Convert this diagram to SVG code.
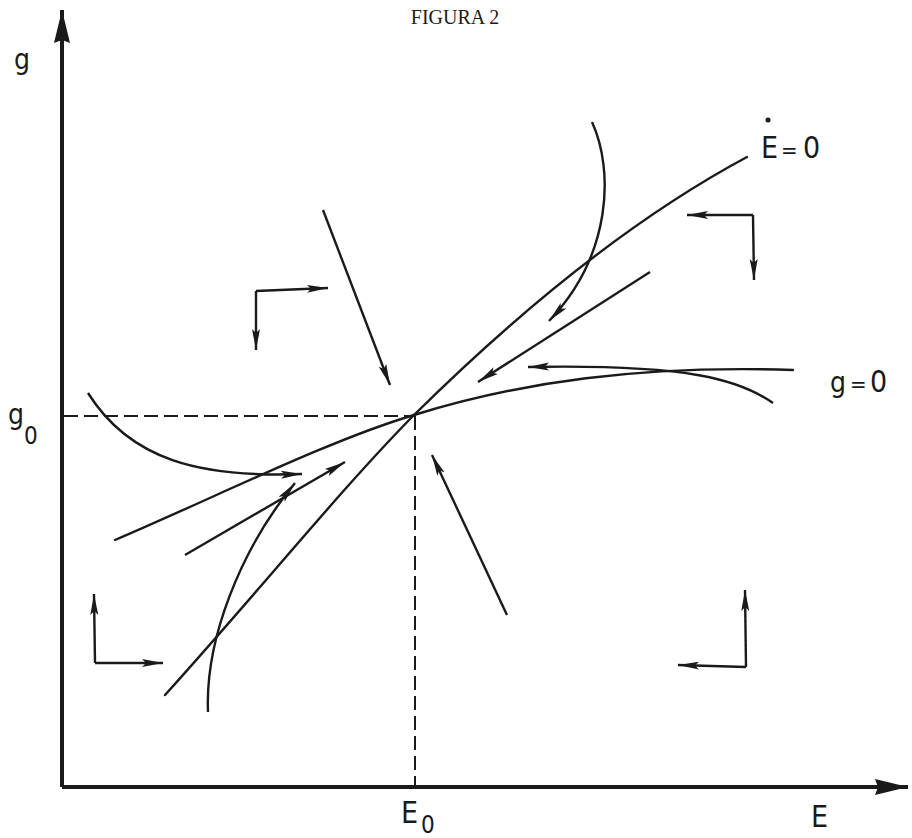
<svg xmlns="http://www.w3.org/2000/svg" width="912" height="838" viewBox="0 0 912 838">
<defs>
<marker id="ah" markerUnits="userSpaceOnUse" markerWidth="22" markerHeight="10" viewBox="0 0 22 10" refX="21" refY="5" orient="auto">
<path d="M0,1 L21,5 L0,9 L4,5 z" fill="#1a1a1a"/>
</marker>
<marker id="axh" markerUnits="userSpaceOnUse" markerWidth="34" markerHeight="18" viewBox="0 0 34 18" refX="33" refY="9" orient="auto">
<path d="M0,1 L33,9 L0,17 L3,9 z" fill="#1a1a1a"/>
</marker>
<style>
.ax{stroke:#1a1a1a;stroke-width:4;fill:none}
.cv{stroke:#1a1a1a;stroke-width:2.4;fill:none;stroke-linecap:round}
.ar{stroke:#1a1a1a;stroke-width:2.4;fill:none;marker-end:url(#ah)}
.ds{stroke:#1a1a1a;stroke-width:2;fill:none;stroke-dasharray:14 6}
.lb{font-family:"DejaVu Sans","Liberation Sans",sans-serif;font-stretch:condensed;fill:#1a1a1a}
.tt{font-family:"Liberation Serif",serif;font-size:20px;fill:#1a1a1a}
</style>
</defs>
<text class="tt" x="455" y="24" text-anchor="middle">FIGURA 2</text>
<g id="axes">
<path class="ax" d="M62,787 L62,10" marker-end="url(#axh)"/>
<path class="ax" d="M62,787 L908,787" marker-end="url(#axh)"/>
</g>
<g id="guides">
<path class="ds" d="M64,416 L414,416"/>
<path class="ds" d="M415,416 L415,785"/>
</g>
<g id="labels">
<text class="lb" x="14" y="69" font-size="28">g</text>
<text class="lb" x="8" y="424" font-size="28">g</text>
<text class="lb" x="24" y="444" font-size="24">0</text>
<text class="lb" x="401" y="823" font-size="30">E</text>
<text class="lb" x="421" y="833" font-size="24">0</text>
<text class="lb" x="811" y="827" font-size="30">E</text>
<text class="lb" x="761" y="158" font-size="30">E</text>
<circle cx="768" cy="120" r="2.5" fill="#1a1a1a"/>
<text class="lb" x="781" y="158" font-size="22">=</text>
<text class="lb" x="803" y="158" font-size="30">0</text>
<text class="lb" x="830" y="392" font-size="28">g</text>
<text class="lb" x="850" y="392" font-size="22">=</text>
<text class="lb" x="870" y="392" font-size="30">0</text>
</g>
<g id="isoclines">
<path id="Edot0" class="cv" d="M165,695 C260,590 340,490 414,415 C500,330 620,225 747,157"/>
<path id="g0" class="cv" d="M115,540 C220,495 330,440 414,415 C520,382 640,365 793,370"/>
</g>
<g id="connectors">
<path class="ar" d="M185,555 L345,462"/>
<path class="ar" d="M650,272 L478,382"/>
<path class="ar" d="M592,122 C614,170 612,255 549,321"/>
<path class="ar" d="M773,403 C740,380 690,364 528,367"/>
<path class="ar" d="M88,393 C130,460 200,478 302,474"/>
<path class="ar" d="M208,712 C205,640 240,550 295,483"/>
<path class="ar" d="M323,210 L390,385"/>
<path class="ar" d="M507,615 L432,455"/>
<path class="ar" d="M256,291 L328,288"/>
<path class="ar" d="M256,291 L256,350"/>
<path class="ar" d="M753,215 L687,215"/>
<path class="ar" d="M753,215 L754,280"/>
<path class="ar" d="M95,663 L94,594"/>
<path class="ar" d="M95,663 L163,663"/>
<path class="ar" d="M746,667 L745,590"/>
<path class="ar" d="M746,667 L678,665"/>
</g>
</svg>
